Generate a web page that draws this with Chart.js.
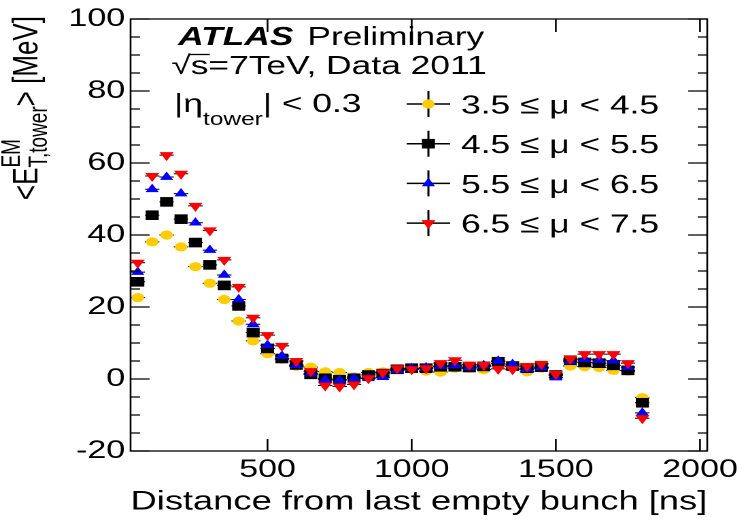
<!DOCTYPE html>
<html>
<head>
<meta charset="utf-8">
<script src="https://cdn.jsdelivr.net/npm/chart.js@4.4.1/dist/chart.umd.min.js"></script>
<style>
  html, body { margin: 0; padding: 0; background: #fff; overflow: hidden; }
  /* the plot is drawn narrow and widened, like the stretched ROOT canvas */
  #wrap { width: 548px; height: 520px; transform: scaleX(1.36); transform-origin: 0 0; }
  #chart { display: block; width: 548px; height: 520px; }
</style>
</head>
<body>
<div id="wrap"><canvas id="chart" width="548" height="520"></canvas></div>
<script>
// bin centres: distance from last empty bunch [ns]
const binCenters = [50, 100, 150, 200, 250, 300, 350, 400, 450, 500, 550, 600,
  650, 700, 750, 800, 850, 900, 950, 1000, 1050, 1100, 1150, 1200,
  1250, 1300, 1350, 1400, 1450, 1500, 1550, 1600, 1650, 1700, 1750, 1800];

// <E_T^EM> per tower [MeV], one list per pile-up bin
const etMu35 = [22.6, 38.1, 40.0, 36.7, 31.2, 26.6, 22.1, 16.1, 10.6, 7.0, 5.5, 3.5,
  3.3, 2.0, 1.8, 0.6, 1.8, 2.0, 2.7, 2.7, 2.2, 1.9, 3.0, 3.0,
  2.6, 4.3, 3.5, 2.0, 3.0, 1.0, 3.6, 3.4, 3.2, 2.4, 2.2, -5.2];
const etMu45 = [27.0, 45.5, 49.2, 44.4, 37.9, 31.7, 26.0, 20.3, 12.9, 8.5, 5.7, 3.9,
  1.3, 0.2, -0.2, 0.2, 1.1, 1.5, 2.7, 3.0, 3.0, 3.4, 3.4, 3.2,
  3.5, 4.8, 3.6, 3.0, 3.3, 1.1, 5.2, 4.6, 4.4, 3.8, 2.4, -6.6];
const etMu55 = [29.7, 52.7, 56.1, 51.5, 43.4, 35.8, 28.9, 22.1, 15.2, 9.4, 6.4, 3.8,
  1.5, -0.2, -0.3, 0.2, 0.2, 0.5, 2.4, 3.0, 3.2, 3.6, 3.8, 3.3,
  3.8, 5.0, 4.1, 2.7, 3.2, 0.4, 4.8, 5.5, 5.3, 5.1, 3.3, -9.4];
const etMu65 = [32.3, 56.4, 62.2, 57.0, 48.1, 41.3, 33.1, 25.6, 17.0, 12.2, 9.2, 5.0,
  2.2, -1.8, -2.1, -1.5, 0.2, 1.8, 3.0, 2.7, 3.0, 4.4, 5.2, 4.0,
  3.9, 2.8, 2.7, 3.6, 4.2, 1.4, 5.6, 6.9, 6.9, 6.9, 4.4, -10.9];

const legendLabels = ['3.5 \u2264 \u03bc < 4.5', '4.5 \u2264 \u03bc < 5.5',
  '5.5 \u2264 \u03bc < 6.5', '6.5 \u2264 \u03bc < 7.5'];
const xTicks = [500, 1000, 1500, 2000];
const yTicks = [-20, 0, 20, 40, 60, 80, 100];
const binHalfWidth = 25;

const FONT = '"Liberation Sans", Arial, Helvetica, sans-serif';

// marker style per series (ROOT markers 20, 21, 22, 23)
const markers = [
  { values: etMu35, color: '#ffcc00', style: 'circle',   radius: 4.6, rotation: 0 },
  { values: etMu45, color: '#000000', style: 'rect',     radius: 6.8, rotation: 0 },
  { values: etMu55, color: '#0000ff', style: 'triangle', radius: 5.6, rotation: 0 },
  { values: etMu65, color: '#ff0000', style: 'triangle', radius: 6.0, rotation: 180 }
];

const datasets = markers.map((m, i) => ({
  label: legendLabels[i],
  data: binCenters.map((x, j) => ({ x: x, y: m.values[j] })),
  pointStyle: m.style,
  pointRadius: m.radius,
  pointRotation: m.rotation,
  backgroundColor: m.color,
  borderWidth: 0,
  showLine: false,
  order: markers.length - i   // later series on top
}));

// horizontal bin-width error bars, drawn under each series' markers
const errorBars = {
  id: 'errorBars',
  beforeDatasetDraw(chart, args) {
    const { ctx } = chart;
    const x = chart.scales.x, y = chart.scales.y;
    const ds = chart.data.datasets[args.index];
    ctx.save();
    ctx.strokeStyle = '#000';
    ctx.lineWidth = 1;
    ctx.beginPath();
    ds.data.forEach(p => {
      const py = y.getPixelForValue(p.y);
      ctx.moveTo(x.getPixelForValue(p.x - binHalfWidth), py);
      ctx.lineTo(x.getPixelForValue(p.x + binHalfWidth), py);
    });
    ctx.stroke();
    ctx.restore();
  }
};

// ROOT style frame with inward ticks on all four sides
const frame = {
  id: 'frame',
  afterDraw(chart) {
    const { ctx, chartArea: a } = chart;
    const x = chart.scales.x, y = chart.scales.y;
    ctx.save();
    ctx.strokeStyle = '#000';
    ctx.lineWidth = 1.3;
    ctx.strokeRect(a.left, a.top, a.right - a.left, a.bottom - a.top);
    ctx.beginPath();
    for (let i = 0; i < yTicks.length; i++) {
      const py = y.getPixelForValue(yTicks[i]);
      ctx.moveTo(a.left, py); ctx.lineTo(a.left + 14, py);
      ctx.moveTo(a.right, py); ctx.lineTo(a.right - 14, py);
      if (i < yTicks.length - 1) {
        const step = (yTicks[i + 1] - yTicks[i]) / 4;
        for (let k = 1; k < 4; k++) {
          const pm = y.getPixelForValue(yTicks[i] + k * step);
          ctx.moveTo(a.left, pm); ctx.lineTo(a.left + 7, pm);
          ctx.moveTo(a.right, pm); ctx.lineTo(a.right - 7, pm);
        }
      }
    }
    xTicks.forEach(v => {
      const px = x.getPixelForValue(v);
      ctx.moveTo(px, a.bottom); ctx.lineTo(px, a.bottom - 12);
      ctx.moveTo(px, a.top); ctx.lineTo(px, a.top + 13);
    });
    ctx.stroke();
    ctx.restore();
  }
};

function drawMarker(ctx, m, cx, cy) {
  Chart.helpers.drawPoint(ctx, {
    pointStyle: m.style, radius: m.radius, rotation: m.rotation, borderWidth: 0
  }, cx, cy);
}

// labels, legend and the y-axis title
const annotations = {
  id: 'annotations',
  afterDraw(chart) {
    const { ctx } = chart;
    ctx.save();
    ctx.fillStyle = '#000';
    ctx.textBaseline = 'alphabetic';
    ctx.textAlign = 'left';

    ctx.font = 'italic bold 26px ' + FONT;
    ctx.fillText('ATLAS', 131, 45);
    ctx.font = '26px ' + FONT;
    ctx.fillText('Preliminary', 226, 45);

    // sqrt(s) with its overline
    ctx.fillText('\u221a', 126, 74);
    const wRoot = ctx.measureText('\u221a').width;
    ctx.fillText('s=7TeV, Data 2011', 126 + wRoot, 74);
    const wS = ctx.measureText('s').width;
    ctx.lineWidth = 1.3;
    ctx.beginPath();
    ctx.moveTo(126 + wRoot - 1.5, 54.5);
    ctx.lineTo(126 + wRoot + wS + 1, 54.5);
    ctx.stroke();

    // |eta_tower| < 0.3
    let tx = 128;
    ctx.fillText('|\u03b7', tx, 112);
    tx += ctx.measureText('|\u03b7').width;
    ctx.font = '18px ' + FONT;
    ctx.fillText('tower', tx, 125);
    tx += ctx.measureText('tower').width;
    ctx.font = '26px ' + FONT;
    ctx.fillText('| < 0.3', tx, 112);

    // legend: marker with error-bar cross, then label
    legendLabels.forEach((label, i) => {
      const cy = 104 + i * 39.7;
      ctx.strokeStyle = '#000';
      ctx.lineWidth = 1.5;
      ctx.beginPath();
      ctx.moveTo(299, cy); ctx.lineTo(331, cy);
      ctx.moveTo(315, cy - 13); ctx.lineTo(315, cy + 13);
      ctx.stroke();
      ctx.fillStyle = markers[i].color;
      drawMarker(ctx, markers[i], 315, cy);
      ctx.fillStyle = '#000';
      ctx.font = '26px ' + FONT;
      ctx.fillText(label, 339, cy + 9.5);
    });

    // y title: <E^EM_T,tower> [MeV], rotated, ending at the top of the axis
    ctx.translate(27.5, 16);
    ctx.rotate(-Math.PI / 2);
    ctx.font = '26px ' + FONT;
    const wLt = ctx.measureText('<E').width;
    const wGt = ctx.measureText('>').width;
    const wUnit = ctx.measureText(' [MeV]').width;
    ctx.font = '19px ' + FONT;
    const wScript = Math.max(ctx.measureText('EM').width, ctx.measureText('T,tower').width);
    let px = -(wLt + wScript + wGt + wUnit);
    ctx.font = '26px ' + FONT;
    ctx.fillText('<E', px, 0); px += wLt;
    ctx.font = '19px ' + FONT;
    ctx.fillText('EM', px, -13);
    ctx.fillText('T,tower', px, 7);
    px += wScript;
    ctx.font = '26px ' + FONT;
    ctx.fillText('>', px, 0); px += wGt;
    ctx.fillText(' [MeV]', px, 0);
    ctx.restore();
  }
};

new Chart(document.getElementById('chart'), {
  type: 'scatter',
  data: { datasets: datasets },
  options: {
    responsive: false,
    devicePixelRatio: 2,
    animation: false,
    events: [],
    layout: { padding: { top: 18, right: 28, left: 0, bottom: 0 } },
    plugins: { legend: { display: false }, tooltip: { enabled: false } },
    scales: {
      x: {
        type: 'linear', min: 25, max: 2025,
        afterBuildTicks: axis => { axis.ticks = xTicks.map(v => ({ value: v })); },
        afterFit: axis => { axis.height = 69; },
        grid: { display: false, drawTicks: false },
        border: { display: false },
        ticks: { color: '#000', padding: 4, maxRotation: 0, font: { family: FONT, size: 25 },
                 callback: v => String(v) },
        title: {
          display: true, text: 'Distance from last empty bunch [ns]', align: 'end',
          color: '#000', font: { family: FONT, size: 27 }, padding: { top: 0, bottom: 2 }
        }
      },
      y: {
        type: 'linear', min: -20, max: 100,
        afterBuildTicks: axis => { axis.ticks = yTicks.map(v => ({ value: v })); },
        afterFit: axis => { axis.width = 96; },
        grid: { display: false, drawTicks: false },
        border: { display: false },
        ticks: { color: '#000', padding: 4, font: { family: FONT, size: 25 },
                 callback: v => String(v) }
      }
    }
  },
  plugins: [errorBars, frame, annotations]
});
</script>
</body>
</html>
